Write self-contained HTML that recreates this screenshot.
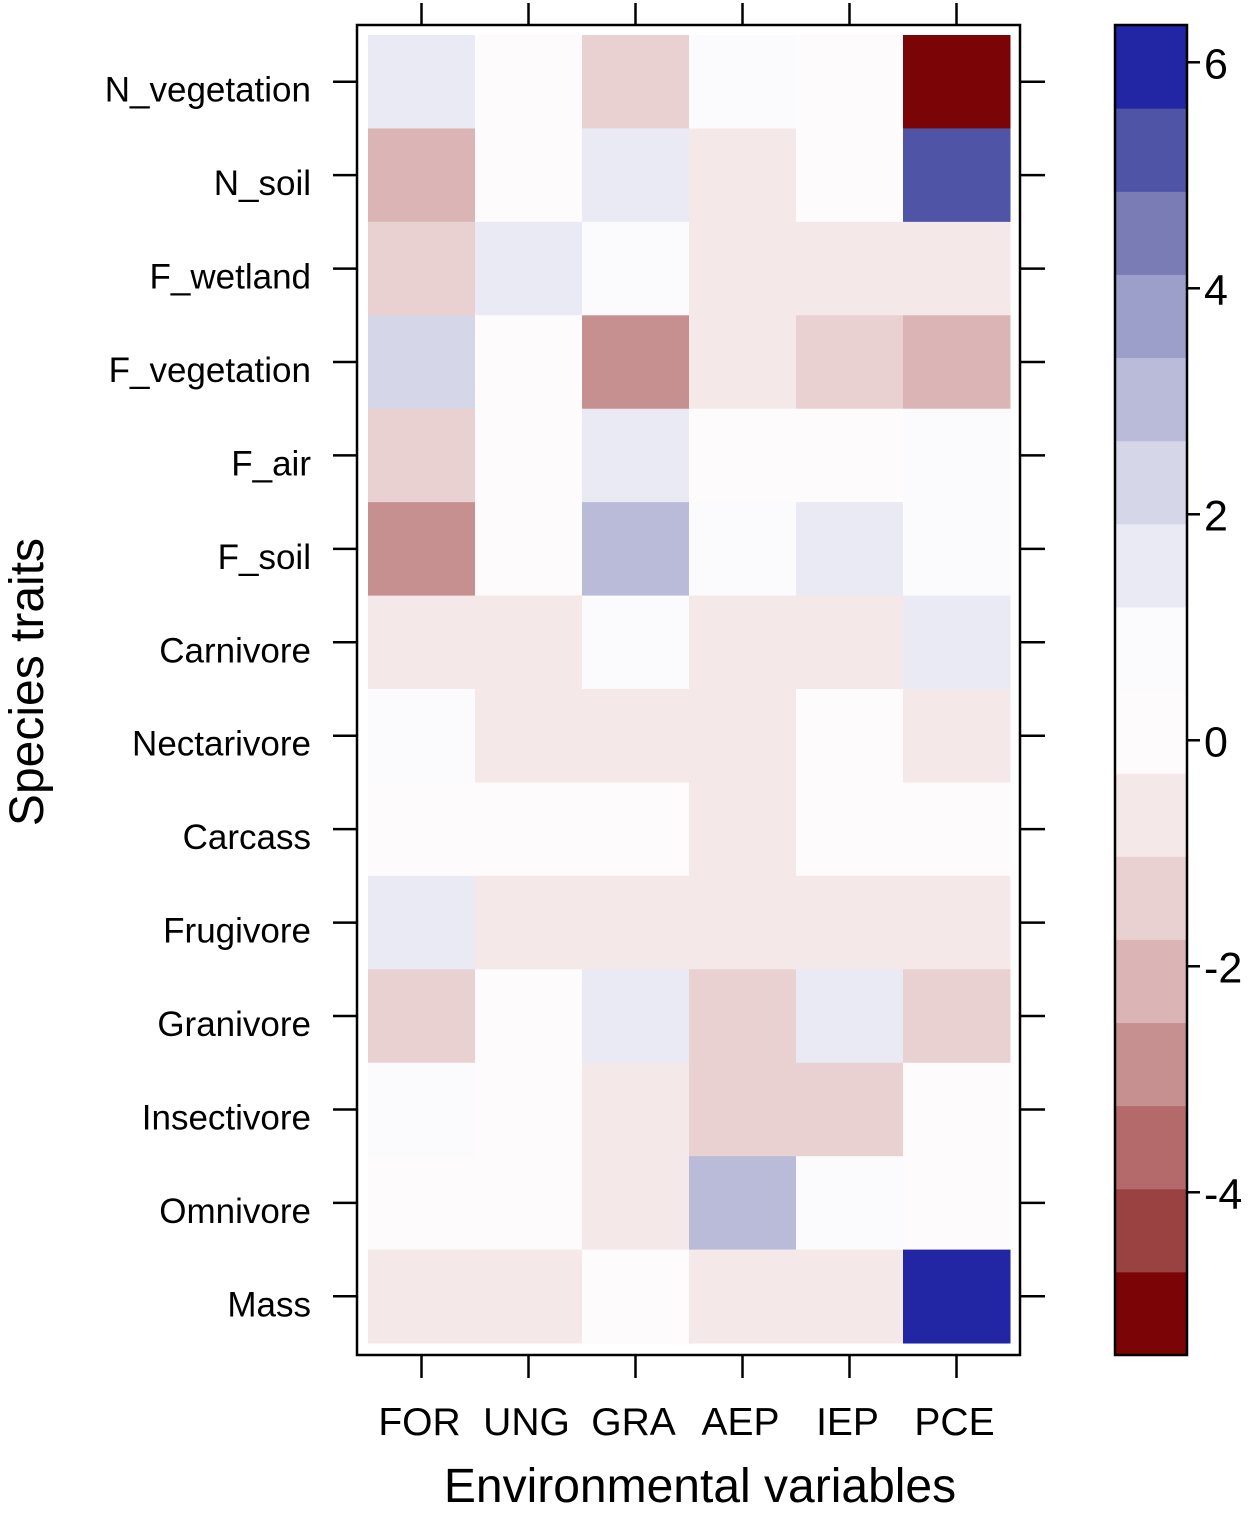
<!DOCTYPE html>
<html><head><meta charset="utf-8"><style>
html,body{margin:0;padding:0;background:#fff}
svg{display:block;font-family:"Liberation Sans",Arial,sans-serif}
</style></head><body>
<svg id="chart" width="1254" height="1513"></svg>
<script>
const rows=["N_vegetation","N_soil","F_wetland","F_vegetation","F_air","F_soil","Carnivore","Nectarivore","Carcass","Frugivore","Granivore","Insectivore","Omnivore","Mass"];
const cols=["FOR","UNG","GRA","AEP","IEP","PCE"];
const values=[
[1.80,0.15,-1.25,0.90,0.15,-5.10],
[-2.00,0.15,1.80,-0.55,0.15,5.40],
[-1.25,1.80,0.90,-0.55,-0.55,-0.55],
[2.50,0.15,-2.70,-0.55,-1.25,-2.00],
[-1.25,0.15,1.80,0.15,0.15,0.90],
[-2.70,0.15,3.30,0.90,1.80,0.90],
[-0.55,-0.55,0.90,-0.55,-0.55,1.80],
[0.90,-0.55,-0.55,-0.55,0.15,-0.55],
[0.15,0.15,0.15,-0.55,0.15,0.15],
[1.80,-0.55,-0.55,-0.55,-0.55,-0.55],
[-1.25,0.15,1.80,-1.25,1.80,-1.25],
[0.90,0.15,-0.55,-1.25,-1.25,0.15],
[0.15,0.15,-0.55,3.30,0.90,0.15],
[-0.55,-0.55,0.15,-0.55,-0.55,6.00]];
const breaks=[-5.44,-4.704,-3.969,-3.233,-2.498,-1.762,-1.026,-0.291,0.445,1.18,1.916,2.651,3.387,4.123,4.858,5.594,6.33];
const colors=["#7b0506","#9a4142","#b46a6a","#c69090","#dbb4b5","#e9d1d2","#f5e8e8","#fdfbfc","#fbfbfd","#e9eaf3","#d5d6e7","#b9bbd9","#9d9fcb","#7a7db5","#4f54a6","#2226a5"];
const cbTicks=[-4,-2,0,2,4,6];

const NS="http://www.w3.org/2000/svg";
const svg=document.getElementById("chart");
function mk(t,a,p){const e=document.createElementNS(NS,t);for(const k in a)e.setAttribute(k,a[k]);(p||svg).appendChild(e);return e;}
const x0=368,cw=107,y0=35,rh=93.43;
const xC=j=>x0+cw*j+cw/2, yR=i=>y0+rh*i+rh/2;
function colorOf(v){for(let k=0;k<colors.length;k++){if(v<breaks[k+1])return colors[k];}return colors[colors.length-1];}
const gCells=mk("g",{});


for(let i=0;i<rows.length;i++)for(let j=0;j<cols.length;j++){
 const r=mk("rect",{x:x0+cw*j,y:y0+rh*i,width:cw+0.5,height:rh+0.5,fill:colorOf(values[i][j])},gCells);
 
 
}
const frame=mk("rect",{x:357,y:25,width:663,height:1330,fill:"none",stroke:"#000","stroke-width":2.5});


for(let j=0;j<cols.length;j++){
 mk("line",{x1:xC(j),x2:xC(j),y1:3,y2:25,stroke:"#000","stroke-width":2.5});
 mk("line",{x1:xC(j),x2:xC(j),y1:1355,y2:1378,stroke:"#000","stroke-width":2.5});
 const t=mk("text",{x:xC(j)-2,y:1435,"font-size":39,"text-anchor":"middle"});t.textContent=cols[j];
 
 
}
for(let i=0;i<rows.length;i++){
 mk("line",{x1:333,x2:357,y1:yR(i),y2:yR(i),stroke:"#000","stroke-width":2.5});
 mk("line",{x1:1020,x2:1045,y1:yR(i),y2:yR(i),stroke:"#000","stroke-width":2.5});
 const t=mk("text",{x:311,y:yR(i)+20,"font-size":35,"text-anchor":"end"});t.textContent=rows[i];
 
 
}
const xt=mk("text",{x:700,y:1502,"font-size":48,"text-anchor":"middle"});xt.textContent="Environmental variables";


const yt=mk("text",{x:0,y:0,"font-size":48,"text-anchor":"middle",transform:"translate(43,682) rotate(-90)"});yt.textContent="Species traits";


const cbTop=25,cbBot=1355,vMin=breaks[0],vMax=breaks[breaks.length-1];
const cy=v=>cbBot-(v-vMin)/(vMax-vMin)*(cbBot-cbTop);
const gCb=mk("g",{});


for(let k=0;k<colors.length;k++){
 mk("rect",{x:1115,y:cy(breaks[k+1]),width:72,height:cy(breaks[k])-cy(breaks[k+1])+0.5,fill:colors[k]},gCb);
}
mk("rect",{x:1115,y:cbTop,width:72,height:cbBot-cbTop,fill:"none",stroke:"#000","stroke-width":2.5},gCb);
for(const v of cbTicks){
 mk("line",{x1:1187,x2:1200,y1:cy(v),y2:cy(v),stroke:"#000","stroke-width":2.5},gCb);
 const t=mk("text",{x:1204,y:cy(v)+16,"font-size":43},gCb);t.textContent=String(v);
 
 
}
</script>
</body></html>
